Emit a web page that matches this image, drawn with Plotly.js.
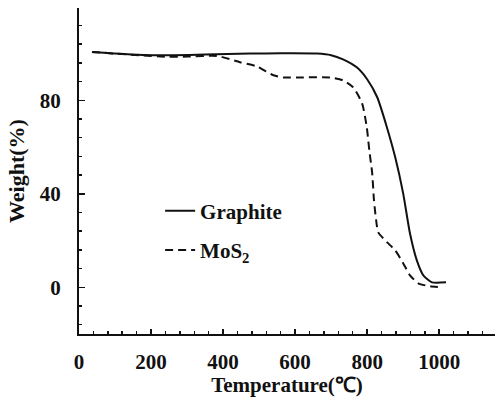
<!DOCTYPE html>
<html>
<head>
<meta charset="utf-8">
<script src="https://cdn.plot.ly/plotly-3.0.1.min.js"></script>
<style>html,body{margin:0;padding:0;background:#fff;}#chart{width:495px;height:397px;}</style>
</head>
<body>
<div id="chart"></div>
<script>
var graphiteT = [36, 100, 178, 260, 350, 475, 560, 661, 700, 733, 772, 800, 828, 855, 878, 900, 919, 938, 956, 980, 1019];
var graphiteW = [100.7, 100.0, 99.4, 99.3, 99.6, 100.0, 100.1, 100.0, 99.3, 97.5, 94.0, 89.0, 81.3, 68.4, 55.6, 40.2, 23.0, 11.5, 5.1, 2.1, 2.1];
var mos2T = [36, 100, 178, 244, 300, 383, 447, 494, 540, 567, 620, 697, 733, 761, 786, 799, 806, 814, 819, 825, 831, 855, 878, 900, 919, 942, 975, 1003];
var mos2W = [100.7, 100.0, 99.2, 98.6, 98.7, 99.0, 96.3, 94.5, 90.7, 89.8, 89.8, 89.8, 88.5, 85.6, 78.7, 68.4, 58.6, 48.8, 37.2, 28.7, 23.5, 19.3, 15.8, 10.3, 5.1, 1.7, 0.4, 0.0];
var seriesNames = ["Graphite", "MoS<sub>2</sub>"];
var xTitle = "Temperature(℃)";
var yTitle = "Weight(%)";

var fontFam = "Liberation Serif, Times New Roman, serif";
var traces = [
  {x: graphiteT, y: graphiteW, name: seriesNames[0], mode: "lines", legendgroup: "a",
   line: {color: "#111", width: 2, shape: "spline", smoothing: 0.6}},
  {x: mos2T, y: mos2W, name: seriesNames[1], mode: "lines", legendgroup: "b",
   line: {color: "#111", width: 2, dash: "8px,5px", shape: "spline", smoothing: 0.6}}
];
var layout = {
  width: 495, height: 397,
  margin: {l: 79, r: 0, t: 8, b: 63},
  paper_bgcolor: "#fff", plot_bgcolor: "#fff",
  font: {family: fontFam, size: 20, color: "#111", weight: "bold"},
  showlegend: true,
  legend: {x: 0.195, y: 0.44, xanchor: "left", yanchor: "top", bgcolor: "rgba(0,0,0,0)",
           font: {family: fontFam, size: 21, color: "#111", weight: "bold"},
           traceorder: "grouped", tracegroupgap: 9},
  xaxis: {range: [0, 1155], showgrid: false, zeroline: false, showline: true, linewidth: 2, linecolor: "#111",
          tickmode: "linear", tick0: 0, dtick: 200, ticks: "inside", ticklen: 5, tickwidth: 1.5, tickcolor: "#111",
          minor: {dtick: 40, ticks: "inside", ticklen: 3, tickwidth: 1.5, tickcolor: "#111"},
          ticklabelstandoff: 8,
          tickfont: {family: fontFam, size: 21, color: "#111", weight: "bold"},
          title: {text: xTitle, standoff: 5, font: {family: fontFam, size: 21, color: "#111", weight: "bold"}}},
  yaxis: {range: [-20, 119.5], showgrid: false, zeroline: false, showline: true, linewidth: 2, linecolor: "#111",
          tickmode: "linear", tick0: 0, dtick: 40, ticks: "inside", ticklen: 6, tickwidth: 1.5, tickcolor: "#111",
          minor: {dtick: 8, ticks: "inside", ticklen: 3, tickwidth: 1.5, tickcolor: "#111"},
          ticklabelstandoff: 12,
          tickfont: {family: fontFam, size: 21, color: "#111", weight: "bold"},
          title: {text: yTitle, standoff: 9, font: {family: fontFam, size: 22, color: "#111", weight: "bold"}}}
};
Plotly.newPlot("chart", traces, layout, {displayModeBar: false, staticPlot: true});
</script>
</body>
</html>
